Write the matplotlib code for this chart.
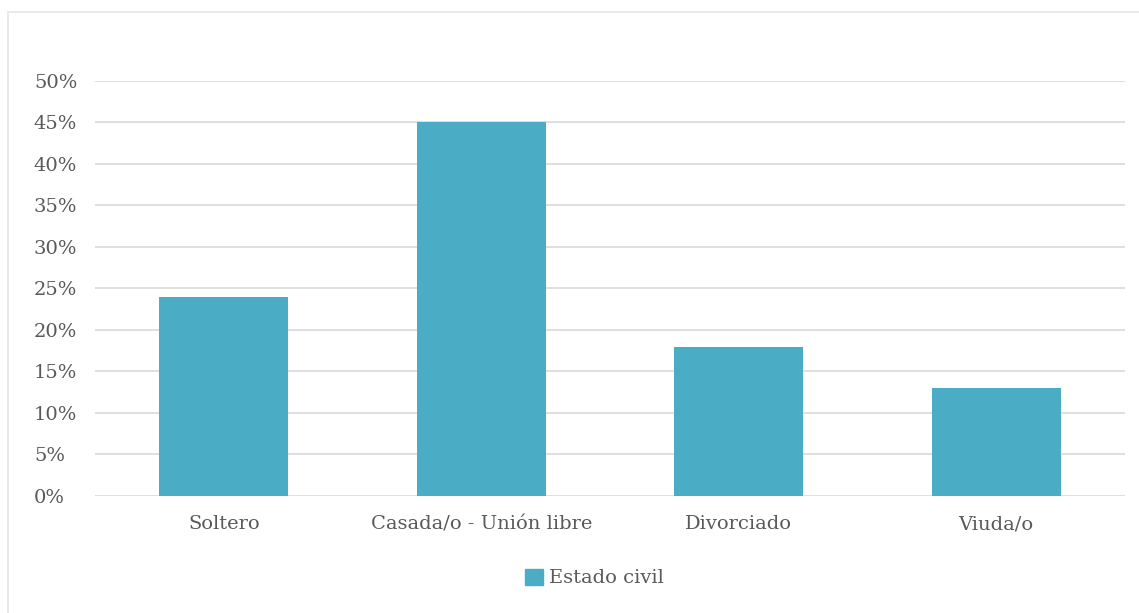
import matplotlib
matplotlib.use("Agg")
import matplotlib.pyplot as plt
from matplotlib.patches import Rectangle, Patch
from matplotlib.ticker import FuncFormatter, MultipleLocator

categories = ["Soltero", "Casada/o - Unión libre", "Divorciado", "Viuda/o"]
values = [24, 45, 18, 13]
series_name = "Estado civil"

BAR = "#4BACC6"
TXT = "#595959"
GRID = "#D9D9D9"

plt.rcParams.update({"font.family": "DejaVu Serif", "font.size": 14})

fig = plt.figure(figsize=(11.39, 6.13), dpi=100)
ax = fig.add_axes([0.0834, 0.1909, 0.9043, 0.677])

# outer chart border
fig.patches.append(Rectangle((8 / 1139, -0.01), 1.02, 1 - 12 / 613 + 0.01,
                             transform=fig.transFigure, fill=False,
                             edgecolor="#E6E6E6", linewidth=1.2))

x = range(len(categories))
ax.bar(x, values, width=0.5, color=BAR, zorder=3)

ax.set_xlim(-0.5, len(categories) - 0.5)
ax.set_ylim(0, 50)
ax.yaxis.set_major_locator(MultipleLocator(5))
ax.yaxis.set_major_formatter(FuncFormatter(lambda v, _: f"{v:.0f}%"))
ax.grid(axis="y", color=GRID, linewidth=1.2, zorder=0)

ax.set_xticks(list(x))
ax.set_xticklabels(categories)
ax.tick_params(length=0, colors=TXT, labelsize=14)
ax.tick_params(axis="x", pad=14)
# y labels are left aligned in the reference
ax.tick_params(axis="y", pad=44)
for lbl in ax.get_yticklabels():
    lbl.set_horizontalalignment("left")
for s in ax.spines.values():
    s.set_visible(False)

fig.legend(handles=[Patch(color=BAR, label=series_name)],
           loc="center", bbox_to_anchor=(0.522, 1 - 578 / 613),
           frameon=False, handlelength=0.9, handleheight=0.9,
           handletextpad=0.3, labelcolor=TXT, fontsize=14)

fig.savefig("out.png", dpi=100)
